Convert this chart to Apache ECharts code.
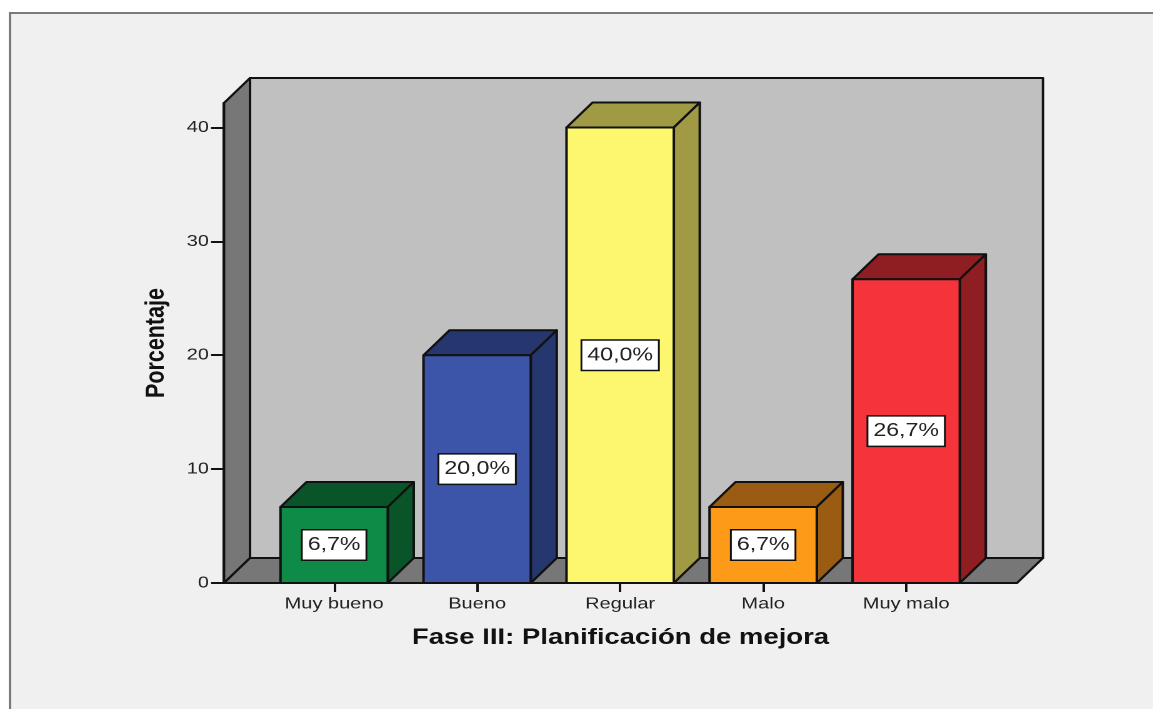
<!DOCTYPE html>
<html>
<head>
<meta charset="utf-8">
<style>
html,body{margin:0;padding:0;background:#fff;overflow:hidden;width:1153px;height:709px}
#c{position:absolute;left:0;top:0;height:709px;transform-origin:0 0}
</style>
<script src="https://cdn.jsdelivr.net/npm/echarts@6/dist/echarts.min.js"></script>
</head>
<body>
<div id="c"></div>
<script>
const categories = ['Muy bueno','Bueno','Regular','Malo','Muy malo'];
const percentages = [6.67,20,40,6.67,26.67];
const valueLabels = ['6,7%','20,0%','40,0%','6,7%','26,7%'];
const yTicks = [0,10,20,30,40];
const xTicks = [0,1,2,3,4];
const frontColors = ['#0e8c47','#3c55a8','#fdf76f','#fd9a17','#f4333a'];
const sideColors = ['#0a5429','#263770','#a09a45','#9a5b12','#8f1e23'];

const S = 1.25;               // the source picture is stretched horizontally
const W = 1153 / S;
const px = v => v / S;
const dx = px(26), dy = -25;  // depth of the 3D box
const xMin = -0.77, xMax = 4.775, yMax = 42.15, halfBar = 0.375;
const edge = {stroke:'#111', lineWidth:2, lineJoin:'round'};

const el = document.getElementById('c');
el.style.width = W + 'px';
el.style.transform = 'scaleX(' + S + ')';
const chart = echarts.init(el, null, {renderer:'canvas', width:W, height:709, devicePixelRatio:2});

function poly(points, fill){
  return {type:'polygon', shape:{points}, style:Object.assign({fill}, edge)};
}
function shift(p){ return [p[0]+dx, p[1]+dy]; }

function renderWalls(params, api){
  const a = api.coord([xMin,0]), b = api.coord([xMax,0]), t = api.coord([xMin,yMax]);
  const tr = api.coord([xMax,yMax]);
  return {type:'group', children:[
    poly([shift(t),shift(tr),shift(b),shift(a)],'#c0c0c0'),
    poly([a,shift(a),shift(t),t],'#777777'),
    poly([a,b,shift(b),shift(a)],'#777777')
  ]};
}
function renderBar(params, api){
  const i = api.value(0), v = api.value(1);
  const tl = api.coord([i-halfBar,v]), tr = api.coord([i+halfBar,v]);
  const bl = api.coord([i-halfBar,0]), br = api.coord([i+halfBar,0]);
  const mid = api.coord([i,v/2]);
  return {type:'group', children:[
    poly([tl,shift(tl),shift(tr),tr],sideColors[params.dataIndex]),
    poly([tr,shift(tr),shift(br),br],sideColors[params.dataIndex]),
    poly([tl,tr,br,bl],frontColors[params.dataIndex]),
    {type:'text', x:mid[0], y:mid[1], style:{
      text:valueLabels[params.dataIndex], x:0, y:0, align:'center', verticalAlign:'middle',
      font:'18.5px "Liberation Sans", Arial, sans-serif', fill:'#222',
      backgroundColor:'#fff', borderColor:'#111', borderWidth:1.5, padding:[7,4,3,4]
    }}
  ]};
}

chart.setOption({
  animation:false,
  backgroundColor:'transparent',
  graphic:[{type:'rect', z:-10, silent:true,
    shape:{x:px(10),y:13,width:W+20,height:720},
    style:{fill:'#f0f0f0',stroke:'#7a7a7a',lineWidth:2}}],
  grid:{left:px(224), right:W-px(1017), top:103, bottom:709-583},
  xAxis:{type:'value', min:xMin, max:xMax, splitLine:{show:false},
    name:'Fase III: Planificación de mejora', nameLocation:'middle', nameGap:44,
    nameTextStyle:{fontFamily:'Liberation Sans', fontWeight:'bold', fontSize:22, color:'#111'},
    axisLine:{show:true,onZero:false,lineStyle:{color:'#111',width:2}},
    axisTick:{show:true,customValues:xTicks,length:9,lineStyle:{color:'#111',width:2}},
    axisLabel:{customValues:xTicks,margin:13,fontFamily:'Liberation Sans',fontSize:16,color:'#222',
      formatter:v=>categories[v]}
  },
  yAxis:{type:'value', min:0, max:yMax, splitLine:{show:false},
    name:'Porcentaje', nameLocation:'middle', nameGap:43,
    nameTextStyle:{fontFamily:'Liberation Sans', fontWeight:'bold', fontSize:21.5, color:'#111'},
    axisLine:{show:true,onZero:false,lineStyle:{color:'#111',width:2}},
    axisTick:{show:true,customValues:yTicks,length:10.4,lineStyle:{color:'#111',width:2}},
    axisLabel:{customValues:yTicks,margin:12,padding:[7,0,0,0],fontFamily:'Liberation Sans',fontSize:16,color:'#222'}
  },
  tooltip:{show:false},
  series:[
    {type:'custom', silent:true, clip:false, z:2, data:[[0,0]], renderItem:renderWalls},
    {type:'custom', silent:true, clip:false, z:3,
      data:categories.map((c,i)=>[i,percentages[i]]), renderItem:renderBar}
  ]
});
</script>
</body>
</html>
